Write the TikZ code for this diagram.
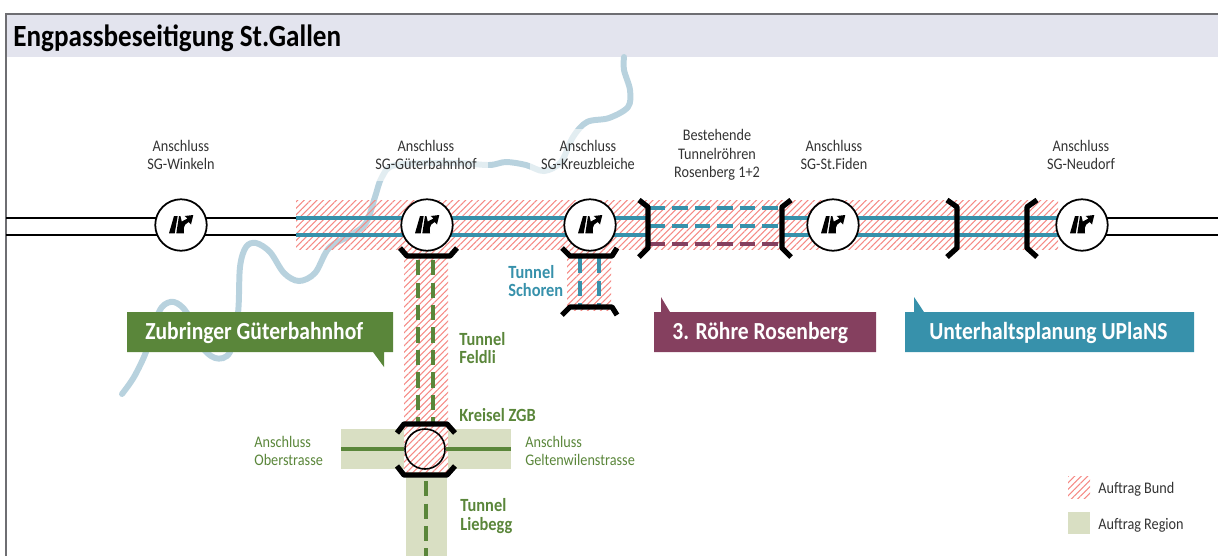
\documentclass[tikz,border=0pt]{standalone}
\usepackage{fontspec}
\setmainfont[FakeStretch=0.88]{Carlito}
\usetikzlibrary{patterns.meta}
\definecolor{headfill}{HTML}{E3E4EE}
\definecolor{framegray}{HTML}{6E6E72}
\definecolor{teal}{HTML}{3791AB}
\definecolor{leaf}{HTML}{5A863A}
\definecolor{plum}{HTML}{85405F}
\definecolor{region}{HTML}{D9DFC3}
\definecolor{riverblue}{HTML}{B8D2DE}
\definecolor{hatchred}{HTML}{F58A85}
\tikzset{
  hatch/.style={pattern={Lines[angle=45,distance=2.6pt,line width=.6pt]},pattern color=hatchred},
  road/.style={draw=black,line width=1.1pt},
  tube/.style={draw=teal,line width=2.2pt},
  tubedash/.style={line width=2.3pt,dash pattern=on 8.7pt off 4.1pt},
  limit/.style={draw=black,line width=3pt,line join=round},
  junction/.style={circle,draw=black,line width=1pt,fill=white,minimum size=1.03cm,inner sep=0pt},
  plain/.style={font=\fontsize{9.2}{10.4}\selectfont,text=black!80,inner sep=0pt,align=left,anchor=west},
  halo/.style={font=\fontsize{9.2}{10.4}\selectfont,text=black!80,align=center,fill=white,fill opacity=.6,text opacity=1,inner sep=6.5pt},
  tag/.style={font=\bfseries\fontsize{10.6}{10.6}\selectfont,inner sep=0pt,align=left,anchor=west},
  banner/.style={font=\bfseries\fontsize{13.95}{14}\selectfont,text=white,inner sep=0pt,anchor=base west},
  rampicon/.pic={
    \fill (-12,8.3) -- (-6.3,8.3) -- (-3.3,-9) -- (-7,-9) -- cycle;
    \fill (-4.7,8.3) -- (-2,-9) -- (-.6,-9) -- (.8,-3.5) .. controls (3,-4.5) .. (6.5,-6.5)
      -- (3.7,-9) -- (12.3,-10) -- (10,-.5) -- (7.8,-3) .. controls (4.5,-1) and (2.8,.5) .. (2.8,3)
      -- (3,8.3) -- cycle;
  }
}
\begin{document}
\begin{tikzpicture}[x=.02cm,y=-.02cm]
\useasboundingbox (0,0) rectangle (1218,556);
% header and frame
\fill[headfill] (6,14) rectangle (1218,57);
\draw[framegray,line width=1.1pt] (6,556) -- (6,14) -- (1218,14);
\node[font=\bfseries\fontsize{17.55}{19}\selectfont,inner sep=0pt,anchor=base west] (title) at (13,46) {Engpassbeseitigung St.Gallen};
%
% river
\draw[riverblue,line width=3.4pt,line cap=round] plot[smooth,tension=.55] coordinates {(122,394) (134,377) (146,352) (153,327) (162,307) (174,302) (187,313) (199,343) (215,358) (230,352) (238,313) (240,267) (246,247) (256,243) (270,252) (284,273) (299,281) (315,273) (329,248) (351,235) (366,223) (375,197) (382,177) (396,165) (454,163) (489,165) (506,162) (526,165) (544,171) (561,162) (573,137) (587,122) (609,118) (628,107) (630,90) (624,70) (624,57)};
%
% labels that veil the river
\node[halo] (lblguter) at (426,155) {Anschluss\\SG-Güterbahnhof};
\node[halo] (lblkreuz) at (588,155) {Anschluss\\SG-Kreuzbleiche};
\node[halo,fill opacity=0] (lblwink) at (181,155) {Anschluss\\SG-Winkeln};
\node[halo,fill opacity=0] (lblrose) at (717,155) {Bestehende\\Tunnelröhren\\Rosenberg 1+2};
\node[halo,fill opacity=0] (lblfiden) at (834,155) {Anschluss\\SG-St.Fiden};
\node[halo,fill opacity=0] (lblneu) at (1081,155) {Anschluss\\SG-Neudorf};
%
% areas
\fill[region] (341,429) rectangle (511,469);
\fill[region] (406,469) rectangle (447,556);
\fill[white] (404,425) rectangle (448,472);
\path[hatch] (296,200) rectangle (1058,249);
\path[hatch] (404,249) rectangle (448,472);
\path[hatch] (567,249) rectangle (611,310);
%
% roads, left to right
\coordinate (westA) at (6,218);
\coordinate (westB) at (6,235);
\coordinate (hatchA) at (296,218);
\coordinate (hatchB) at (296,235);
\coordinate (portalA) at (648,218);
\coordinate (portalB) at (648,235);
\coordinate (portalC) at (782,218);
\coordinate (portalD) at (782,235);
\coordinate (neuA) at (1060,218);
\coordinate (neuB) at (1060,235);
\coordinate (eastA) at (1218,218);
\coordinate (eastB) at (1218,235);
\draw[road] (westA) -- (hatchA);
\draw[road] (westB) -- (hatchB);
\draw[tube] (hatchA) -- (portalA);
\draw[tube] (hatchB) -- (portalB);
\draw[tube] (portalC) -- (neuA);
\draw[tube] (portalD) -- (neuB);
\draw[road,line width=.8pt] (neuA) -- (eastA);
\draw[road,line width=.8pt] (neuB) -- (eastB);
%
% tunnels Rosenberg
\coordinate (roseA) at (650,208);
\coordinate (roseB) at (650,226);
\coordinate (roseC) at (650,244);
\coordinate (roseD) at (779,208);
\coordinate (roseE) at (779,226);
\coordinate (roseF) at (779,244);
\draw[tubedash,teal] (roseA) -- (roseD);
\draw[tubedash,teal] (roseB) -- (roseE);
\draw[tubedash,plum] (roseC) -- (roseF);
%
% tunnel Feldli
\coordinate (feldA) at (418,260);
\coordinate (feldB) at (433,260);
\coordinate (feldC) at (418,424);
\coordinate (feldD) at (433,424);
\draw[tubedash,leaf] (feldA) -- (feldC);
\draw[tubedash,leaf] (feldB) -- (feldD);
%
% tunnel Schoren
\coordinate (schoA) at (580,258);
\coordinate (schoB) at (599,258);
\coordinate (schoC) at (580,306);
\coordinate (schoD) at (599,306);
\draw[tubedash,teal] (schoA) -- (schoC);
\draw[tubedash,teal] (schoB) -- (schoD);
%
% kreisel and region roads
\node[circle,draw=black,line width=.9pt,minimum size=.8cm,inner sep=0pt] (kreisel) at (425,449) {};
\coordinate (oberA) at (341,449);
\coordinate (geltA) at (511,449);
\coordinate (liebA) at (426,481);
\coordinate (liebB) at (426,556);
\draw[leaf,line width=2.2pt] (oberA) -- (kreisel);
\draw[leaf,line width=2.2pt] (kreisel) -- (geltA);
\draw[tubedash,leaf] (liebA) -- (liebB);
%
% junctions
\node[junction] (winkeln) at (181,225) {};
\node[junction] (guter) at (427,225) {};
\node[junction] (kreuz) at (590,225) {};
\node[junction] (fiden) at (833,225) {};
\node[junction] (neudorf) at (1082,225) {};
\pic at (winkeln) {rampicon};
\pic at (guter) {rampicon};
\pic at (kreuz) {rampicon};
\pic at (fiden) {rampicon};
\pic at (neudorf) {rampicon};
%
% limits of the works
\draw[limit] (639,200) -- (648,207) -- (648,248) -- (639,257);
\draw[limit] (791,200) -- (782,207) -- (782,248) -- (791,257);
\draw[limit] (947,200) -- (957,207) -- (957,248) -- (947,257);
\draw[limit] (1037,200) -- (1027,207) -- (1027,248) -- (1037,257);
\draw[limit] (400,248) -- (407,256) -- (450,256) -- (457,248);
\draw[limit] (562,248) -- (570,256) -- (612,256) -- (617,248);
\draw[limit] (562,315) -- (570,307) -- (612,307) -- (617,315);
\draw[limit] (397,433) -- (404,424) -- (447,424) -- (455,433);
\draw[limit] (397,466) -- (404,475) -- (447,475) -- (455,466);
%
% banners
\fill[leaf] (127,312) -- (393,312) -- (393,352) -- (384,352) -- (384,367) -- (373,352) -- (127,352) -- cycle;
\fill[plum] (654,312) -- (661,312) -- (661,297) -- (670,312) -- (876,312) -- (876,352) -- (654,352) -- cycle;
\fill[teal] (905,312) -- (914,312) -- (914,297) -- (924,312) -- (1194,312) -- (1194,352) -- (905,352) -- cycle;
\node[banner] (zubringer) at (145,339) {Zubringer Güterbahnhof};
\node[banner] (rohre) at (672,339) {3. Röhre Rosenberg};
\node[banner] (uplans) at (929,339) {Unterhaltsplanung UPlaNS};
%
% tunnel names
\node[tag,text=teal] (schoren) at (508,281) {Tunnel\\Schoren};
\node[tag,text=leaf] (feldli) at (459,348) {Tunnel\\Feldli};
\node[tag,text=leaf] (zgb) at (459,415) {Kreisel ZGB};
\node[tag,text=leaf] (liebegg) at (460,516) {Tunnel\\Liebegg};
\node[plain,text=leaf] (ober) at (254,451) {Anschluss\\Oberstrasse};
\node[plain,text=leaf] (gelten) at (525,451) {Anschluss\\Geltenwilenstrasse};
%
% legend
\path[hatch] (1068,476) rectangle (1090,498);
\fill[region] (1068,512) rectangle (1090,534);
\node[plain] (bund) at (1098,489) {Auftrag Bund};
\node[plain] (regio) at (1098,525) {Auftrag Region};
\end{tikzpicture}
\end{document}
